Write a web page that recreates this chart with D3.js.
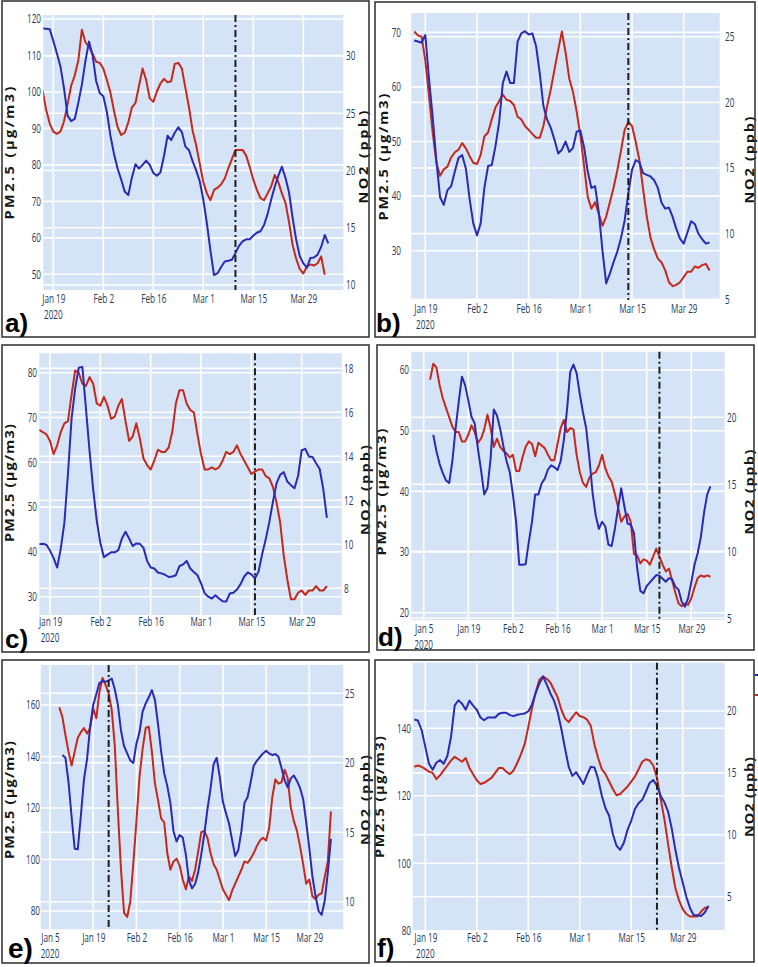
<!DOCTYPE html>
<html><head><meta charset="utf-8">
<script src="https://cdn.jsdelivr.net/npm/d3@7"></script>
<style>body{margin:0;background:#fff}</style>
</head><body>
<svg id="chart" width="758" height="967"></svg>
<script>
// ---------------- DATA ----------------
const lateTicks = ["2020-01-19","2020-02-02","2020-02-16","2020-03-01","2020-03-15","2020-03-29"];
const earlyTicks = ["2020-01-05","2020-01-19","2020-02-02","2020-02-16","2020-03-01","2020-03-15","2020-03-29"];

// panel a
const aPMStart = "2020-01-16";
const aPM = [117.4,117.3,117.2,114,110.6,107,101,93.5,92,92.6,97,102,108.5,113.8,110,103,99.7,98.8,94.5,88,83,79,76,72.7,71.7,76.5,80.2,79,80,81.2,80,77.8,77,78,82.5,88,86.8,88.8,90.3,89,85,84,81,78.5,75.5,70.5,64,56.5,49.8,50.3,52,53.5,53.7,54,55.8,57.8,59,59.6,59.6,60.6,61.4,61.8,63.5,66.5,70.5,74,77,79.5,76.5,72.5,65.5,59.5,55,53,51.8,54.5,54.6,55.4,57.5,60.8,58.5];
const aNO2Start = "2020-01-16";
const aNO2 = [27.0,25.3,24.1,23.4,23.2,23.4,24.3,25.8,27.4,28.3,29.6,32.3,31.2,30.8,30.2,29.5,29.4,28.9,27.9,26.8,25.2,23.8,23.1,23.3,24.2,25.5,25.9,27.4,28.9,27.9,26.3,26.0,26.9,27.6,28.0,27.7,27.8,29.3,29.4,28.9,27.2,25.5,23.5,22.2,20.6,19.0,18.0,17.4,18.3,18.5,18.8,19.3,20.2,21.0,21.8,21.8,21.8,21.3,20.3,19.2,18.3,17.6,17.4,18.0,18.6,19.6,19.0,18.0,17.2,15.5,13.5,12.3,11.4,11.0,11.6,11.8,11.7,11.9,12.5,10.9];
const aEvent = "2020-03-10";
const aLeftTicks = [50,60,70,80,90,100,110,120];
const aRightTicks = [10,15,20,25,30];

// panel b
const bPMStart = "2020-01-16";
const bPM = [68.5,68.3,68.1,69.5,61.5,54.5,46.5,39.8,38.4,41.1,41.8,44.5,47.0,47.5,45.0,39.5,35,32.8,35,41.5,45.5,45.7,49.1,53.5,60.7,62.8,60.7,60.7,68.3,69.8,70.2,69.6,69.8,67.5,62.5,56.5,54,52.5,50.3,47.8,48.5,50,48.1,48.8,51.8,52,49,44.5,41.5,41.8,37,30,24,25.8,27.9,29.8,32.3,35.5,40.5,44.8,46.6,46.2,44.2,43.9,43.6,42.9,41.5,38.8,37.7,37.9,36.2,34.0,32.2,31.3,33.3,35.4,34.9,33.1,32.1,31.3,31.5];
const bNO2Start = "2020-01-16";
const bNO2 = [25.4,25.1,25.0,23.2,20.5,17.7,15.4,14.4,14.9,15.1,15.8,16.2,16.4,16.9,16.5,15.9,15.4,15.3,16.0,17.4,17.7,18.7,19.6,20.1,20.6,20.2,20.1,19.8,18.9,18.7,18.2,17.9,17.6,17.3,17.3,18.2,19.7,21.0,22.5,24.0,25.4,23.8,21.8,20.8,19.3,17.5,15.2,12.8,11.9,12.4,11.5,10.6,11.3,12.4,13.5,14.8,16.3,17.9,18.5,18.2,17.0,15.6,13.4,11.3,9.7,8.8,8.1,7.8,7.2,6.3,6.0,6.1,6.3,6.7,7.1,7.1,7.5,7.4,7.6,7.7,7.2];
const bEvent = "2020-03-14";
const bLeftTicks = [30,40,50,60,70];
const bRightTicks = [5,10,15,20,25];

// panel c
const cPMStart = "2020-01-16";
const cPM = [41.7,41.8,41.6,40.3,38.6,36.5,40.8,46.5,57.5,69.8,76.5,81.1,81.3,72,62.5,54,47,42,38.8,39.4,39.9,39.9,40.4,43,44.5,43,41.3,41.9,41.8,40.9,38,36.5,36.3,35.4,35.2,34.9,34.4,34.5,34.8,36.8,37.2,38,36.3,35.5,34.8,33,30.8,30,29.6,30.3,29.6,29,28.9,30.7,30.9,31.6,32.8,34.5,35.4,35,34.1,35.6,39.5,42.8,46.7,51.2,55.3,57.2,57.8,55.7,54.9,54.2,57,62.7,63,61.3,61.2,59.8,58.5,54,47.6];
const cNO2Start = "2020-01-16";
const cNO2 = [15.2,15.1,15.0,14.7,14.1,14.5,15.1,15.5,15.6,16.8,17.9,17.8,17.3,17.2,17.6,17.3,16.4,16.3,16.7,16.3,15.7,15.8,16.3,16.6,15.6,14.7,14.9,15.5,14.8,13.9,13.6,13.4,13.8,14.3,14.2,14.2,14.4,15.1,16.4,17.0,17.0,16.4,16.1,16.0,15.0,14.1,13.4,13.4,13.5,13.4,13.5,13.8,14.2,14.1,14.2,14.5,14.1,13.8,13.5,13.2,13.3,13.4,13.4,13.1,13.0,12.6,11.9,11.0,9.5,8.4,7.5,7.5,7.8,7.9,7.7,7.9,7.9,8.1,7.9,7.9,8.1];
const cEvent = "2020-03-16";
const cLeftTicks = [30,40,50,60,70,80];
const cRightTicks = [8,10,12,14,16,18];

// panel d
const dPMStart = "2020-01-08";
const dPM = [49.3,46.6,44.5,43,41.8,41.4,45.0,50.3,54.8,58.9,57.5,55.0,52.3,51.2,47.1,43.5,39.5,40.5,45.4,53.5,52.5,50.3,47.5,45,43.2,39.5,35,27.9,27.9,28,31.7,35,39.5,39.5,41.3,42.1,43.6,44.3,44.0,43.5,45,48.5,53.5,59.7,60.9,59.5,56,53,50.4,45.5,39.8,36,33.8,35,34.2,31.2,31.0,33.8,37.2,40.5,37.5,34.7,34.5,33.1,27.4,23.6,23.2,24.4,25,25.6,26.2,26.1,25.6,25.1,25.7,25.5,24.3,23.8,21.8,21,22.4,25,27.9,29.8,32.5,36.5,39.5,40.8];
const dNO2Start = "2020-01-07";
const dNO2 = [22.8,24.0,23.7,22.4,21.4,20.7,20.0,19.3,18.9,18.9,18.2,18.2,18.7,19.4,18.9,18.1,18.4,19.1,20.2,19.2,17.8,18.4,17.8,17.5,17.3,17.0,17.2,16.0,16.0,17.0,17.8,18.2,18.0,17.1,18.1,17.9,17.7,17.2,16.8,16.8,18.0,19.2,19.8,18.9,19.2,19.1,17.2,15.9,15.1,14.8,15.5,15.8,15.9,16.4,17.2,16.2,15.6,15.2,14.3,13.3,12.2,12.6,12.8,12.2,9.8,9.7,9.1,9.4,9.3,9.0,9.6,10.2,9.6,9.0,8.5,8.7,7.8,6.9,6.1,5.9,6.1,6.0,6.5,7.3,8.0,8.2,8.1,8.2,8.1];
const dEvent = "2020-03-19";
const dLeftTicks = [20,30,40,50,60];
const dRightTicks = [5,10,15,20];

// panel e
const ePMStart = "2020-01-09";
const ePM = [140.6,139.5,130,116.5,104.2,104,117,131,139,151.6,160,164.2,168.5,169.3,169,169.5,170.3,166,160,150,144,141.2,138.5,137.5,145,149.5,157.4,160.6,163,165.8,161.9,152.5,142,133.5,128.5,122,111,107,109.5,108.5,102,92,88.8,90.5,95,102,110,119.5,127.5,137,139.5,132,122.5,118,114,107.5,101.3,103.7,111,122,124.2,130,136.5,138.3,139.8,141.2,142.2,141.2,140.5,141,139.9,135.5,130.8,128,131.5,132.6,130.5,127.8,123.5,114.5,104.5,93.5,86,80,78.5,84,95,108];
const eNO2Start = "2020-01-08";
const eNO2 = [24.0,23.3,22.0,20.8,19.8,20.8,21.8,22.2,22.5,22.1,22.5,23.9,23.2,25.1,26.1,25.6,25.0,23.8,21.2,16.5,12.3,9.2,8.9,10.0,12.8,15.8,19.0,21.0,22.5,22.6,20.8,18.5,17.3,16.0,15.7,13.5,12.3,12.9,13.1,12.6,11.6,10.9,11.8,11.5,12.3,13.6,15.0,15.1,14.6,13.5,12.7,12.3,11.6,10.9,10.5,10.1,10.8,11.3,11.8,12.3,12.9,12.8,13.1,13.5,14.0,14.4,14.6,14.4,15.3,17.5,18.8,18.5,18.6,19.5,18.9,16.8,15.8,15.1,14.0,12.7,11.3,11.6,10.4,10.2,10.5,10.6,11.8,12.9,16.5];
const eEvent = "2020-01-24";
const eLeftTicks = [80,100,120,140,160];
const eRightTicks = [10,15,20,25];

// panel f
const fPMStart = "2020-01-16";
const fPM = [142.6,142.3,139.5,134.5,129.5,127.7,129.8,130.6,129.5,131.8,137.5,146.8,148.3,147.3,145.5,148.2,146.7,145.5,143.2,142.4,143.2,143.2,143.2,144.3,144.6,144.6,143.9,143.6,144,144.2,144.4,145.0,147.0,150.4,153.2,155.3,153.0,150.4,148.2,144.8,139.8,134.0,128.6,125.9,127.0,125.3,123.5,126.2,128.6,128.4,125.0,120.0,116.3,114.1,108.7,105.2,104,106.1,109.9,112.6,116.1,117.8,118.8,121.2,123.8,124.7,123.0,120.0,118.1,115.4,110.4,104,98.6,94.3,90,86.7,84.6,84.6,84.4,85.4,87.4];
const fNO2Start = "2020-01-16";
const fNO2 = [15.5,15.6,15.5,15.3,15.1,15.0,14.5,14.8,15.2,15.6,16.0,16.3,16.1,15.9,16.2,15.4,14.9,14.4,14.1,14.2,14.4,14.6,15.0,15.4,15.4,15.1,14.9,15.2,15.8,16.5,17.3,18.7,20.2,21.5,22.5,22.8,22.6,22.3,21.7,21.1,20.1,19.4,19.1,19.5,19.9,19.6,19.5,19.3,18.8,17.3,16.2,15.3,14.9,14.3,13.7,13.2,13.3,13.6,13.9,14.3,14.7,15.3,15.9,16.1,16.0,15.6,14.6,12.9,11.3,9.3,7.4,5.7,4.7,4.0,3.6,3.4,3.4,3.4,3.8,4.1,4.1];
const fEvent = "2020-03-22";
const fLeftTicks = [80,100,120,140];
const fRightTicks = [5,10,15,20];

const pmTitle = "PM2.5 (μg/m3)";
const no2Title = "NO2 (ppb)";

// ---------------- LAYOUT ----------------
const panels = [
 {letter:"a)", pm:aPM, pmStart:aPMStart, no2:aNO2, no2Start:aNO2Start, event:aEvent, lt:aLeftTicks, rt:aRightTicks, dt:lateTicks,
  frame:[2,1,367,336], plot:[43.3,15,343.3,290], xr:["2020-01-19",53.3,"2020-03-29",303.3],
  yl:[120,19,50,274.3], yr:[30,56,10,285], tickY:303, yearY:319.5, llx:41, rlx:346,
  lTitle:[10,153,133], rTitle:[364,157,93], let:[5,332,26]},
 {letter:"b)", pm:bPM, pmStart:bPMStart, no2:bNO2, no2Start:bNO2Start, event:bEvent, lt:bLeftTicks, rt:bRightTicks, dt:lateTicks,
  frame:[375,2,380,335], plot:[411.3,13,719.7,300], xr:["2020-01-19",425.3,"2020-03-29",683.7],
  yl:[70,32.3,30,250.7], yr:[25,36.7,5,299.3], tickY:313, yearY:329.5, llx:401, rlx:725,
  lTitle:[384,157,127], rTitle:[750,160,87], let:[376,332,26]},
 {letter:"c)", pm:cPM, pmStart:cPMStart, no2:cNO2, no2Start:cNO2Start, event:cEvent, lt:cLeftTicks, rt:cRightTicks, dt:lateTicks,
  frame:[2,345,367,307], plot:[39.3,353.3,341.7,615], xr:["2020-01-19",50,"2020-03-29",301.7],
  yl:[80,372.7,30,596.7], yr:[18,368.3,8,588.3], tickY:626, yearY:642.5, llx:37, rlx:344,
  lTitle:[10,483,118], rTitle:[366,490,90], let:[5,648,26]},
 {letter:"d)", pm:dPM, pmStart:dPMStart, no2:dNO2, no2Start:dNO2Start, event:dEvent, lt:dLeftTicks, rt:dRightTicks, dt:earlyTicks,
  frame:[377,345,377,305], plot:[411.3,351.7,724.7,620], xr:["2020-01-05",423.7,"2020-03-29",691.3],
  yl:[60,370,20,612.7], yr:[20,417.3,5,618.3], tickY:633, yearY:649.5, llx:409, rlx:727,
  lTitle:[382,492,127], rTitle:[750,492,85], let:[378,646,26]},
 {letter:"e)", pm:ePM, pmStart:ePMStart, no2:eNO2, no2Start:eNO2Start, event:eEvent, lt:eLeftTicks, rt:eRightTicks, dt:earlyTicks,
  frame:[2,660,367,303], plot:[40.7,665,343.3,929.3], xr:["2020-01-05",50,"2020-03-29",309.3],
  yl:[160,705,80,911], yr:[25,693.3,10,901.7], tickY:941.5, yearY:958, llx:40, rlx:345,
  lTitle:[10,800,118], rTitle:[366,800,90], let:[8,958,28]},
 {letter:"f)", pm:fPM, pmStart:fPMStart, no2:fNO2, no2Start:fNO2Start, event:fEvent, lt:fLeftTicks, rt:fRightTicks, dt:lateTicks,
  frame:[375,660,379,302], plot:[412.7,662.7,724.7,930], xr:["2020-01-19",425.3,"2020-03-29",682.7],
  yl:[140,728.3,100,863.3], yr:[20,711,5,896.7], tickY:942, yearY:958.5, llx:411, rlx:727,
  lTitle:[380,797,122], rTitle:[750,797,80], let:[377,957,26], legend:true}
];

const BLUE = "#2a2ab4", RED = "#c4291c", BG = "#d5e3f7";
const TICKFONT = "'Open Sans', 'Noto Sans', sans-serif";
const TICKSIZE = 12, SQX = 0.68, TICKCOL = "#243a5c";
const parse = d3.utcParse("%Y-%m-%d");
const fmt = d3.utcFormat("%b %-d");
const svg = d3.select("#chart");

function series(start, vals){
  const s = parse(start);
  return vals.map((v,i)=>({date:d3.utcDay.offset(s,i), v}));
}

panels.forEach((p, idx)=>{
  const g = svg.append("g");
  const [px0,py0,px1,py1] = p.plot;
  const x = d3.scaleUtc().domain([parse(p.xr[0]), parse(p.xr[2])]).range([p.xr[1], p.xr[3]]);
  const yL = d3.scaleLinear().domain([p.yl[0], p.yl[2]]).range([p.yl[1], p.yl[3]]);
  const yR = d3.scaleLinear().domain([p.yr[0], p.yr[2]]).range([p.yr[1], p.yr[3]]);

  g.append("rect").attr("x",px0).attr("y",py0).attr("width",px1-px0).attr("height",py1-py0).attr("fill",BG);

  const clipId = "clip"+idx;
  g.append("clipPath").attr("id",clipId).append("rect")
    .attr("x",px0).attr("y",py0).attr("width",px1-px0).attr("height",py1-py0);

  const grid = g.append("g").attr("clip-path",`url(#${clipId})`)
    .attr("stroke","#ffffff").attr("stroke-width",1.6);
  p.dt.map(parse).forEach(d=>{
    grid.append("line").attr("x1",x(d)).attr("x2",x(d)).attr("y1",py0).attr("y2",py1);
  });
  p.lt.forEach(v=>{
    grid.append("line").attr("x1",px0).attr("x2",px1).attr("y1",yL(v)).attr("y2",yL(v));
  });
  p.rt.forEach(v=>{
    grid.append("line").attr("x1",px0).attr("x2",px1).attr("y1",yR(v)).attr("y2",yR(v));
  });

  const lines = g.append("g").attr("clip-path",`url(#${clipId})`).attr("fill","none")
    .attr("stroke-width",2).attr("stroke-linejoin","round");
  const pmData = series(p.pmStart, p.pm), no2Data = series(p.no2Start, p.no2);
  lines.append("path").datum(no2Data).attr("stroke",RED)
    .attr("d", d3.line().x(d=>x(d.date)).y(d=>yR(d.v)));
  lines.append("path").datum(pmData).attr("stroke",BLUE)
    .attr("d", d3.line().x(d=>x(d.date)).y(d=>yL(d.v)));

  const ex = x(parse(p.event));
  g.append("line").attr("x1",ex).attr("x2",ex).attr("y1",py0).attr("y2",py1)
    .attr("stroke","#1e1e1e").attr("stroke-width",2).attr("stroke-dasharray","7,3,2,3");

  const xa = g.append("g").attr("transform",`translate(0,${py1})`)
    .call(d3.axisBottom(x).tickValues(p.dt.map(parse)).tickFormat(fmt).tickSize(0).tickPadding(p.tickY-py1-0.71*TICKSIZE));
  xa.select(".domain").remove();
  xa.selectAll("text").attr("transform",`scale(${SQX},1)`);
  const x0 = x(parse(p.dt[0]));
  g.append("text").attr("x",x0).attr("y",p.yearY).attr("text-anchor","middle")
    .attr("transform",`translate(${x0*(1-SQX)},0) scale(${SQX},1)`)
    .attr("font-family",TICKFONT).attr("font-size",TICKSIZE).attr("fill",TICKCOL).text("2020");

  const la = g.append("g").attr("transform",`translate(${p.llx},0)`)
    .call(d3.axisLeft(yL).tickValues(p.lt).tickSize(0).tickPadding(0));
  la.select(".domain").remove();
  la.selectAll("text").attr("transform",`scale(${SQX},1)`);
  const ra = g.append("g").attr("transform",`translate(${p.rlx},0)`)
    .call(d3.axisRight(yR).tickValues(p.rt).tickSize(0).tickPadding(0));
  ra.select(".domain").remove();
  ra.selectAll("text").attr("transform",`scale(${SQX},1)`);
  g.selectAll(".tick text").attr("font-family",TICKFONT).attr("font-size",TICKSIZE).attr("fill",TICKCOL);

  [[p.lTitle,pmTitle],[p.rTitle,no2Title]].forEach(([t,txt])=>{
    g.append("text").attr("transform",`translate(${t[0]},${t[1]}) rotate(-90) scale(1,0.8)`)
      .attr("text-anchor","middle").attr("dominant-baseline","central")
      .attr("font-family","'Open Sans', sans-serif").attr("font-weight","bold").attr("font-size",14.5)
      .attr("fill","#161616").attr("textLength",t[2]).attr("lengthAdjust","spacing").text(txt);
  });

  g.append("rect").attr("x",p.frame[0]).attr("y",p.frame[1]).attr("width",p.frame[2]).attr("height",p.frame[3])
    .attr("fill","none").attr("stroke","#3a3a3a").attr("stroke-width",1.6);

  g.append("text").attr("x",p.let[0]).attr("y",p.let[1])
    .attr("font-family","'Liberation Sans', Arial, sans-serif").attr("font-weight","bold")
    .attr("font-size",p.let[2]).attr("fill","#000").text(p.letter);

  if (p.legend){
    g.append("line").attr("x1",754.5).attr("x2",758).attr("y1",675).attr("y2",675).attr("stroke",BLUE).attr("stroke-width",2);
    g.append("line").attr("x1",754.5).attr("x2",758).attr("y1",695).attr("y2",695).attr("stroke",RED).attr("stroke-width",2);
  }
});
</script>
</body></html>
